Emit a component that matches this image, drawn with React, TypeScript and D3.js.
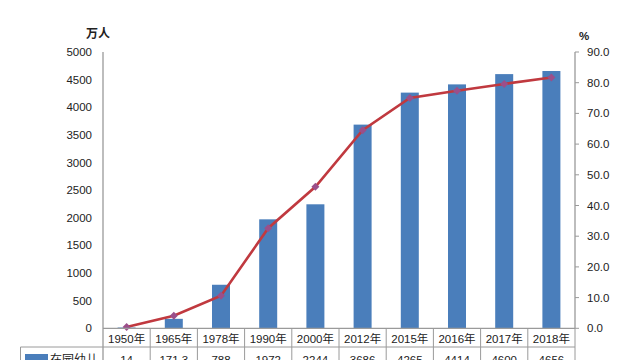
import React from "react";
import * as d3 from "d3";

const categories = ["1950年", "1965年", "1978年", "1990年", "2000年", "2012年", "2015年", "2016年", "2017年", "2018年"];
const enrolled = [14, 171.3, 788, 1972, 2244, 3686, 4265, 4414, 4600, 4656];
const enrolledLabels = ["14", "171.3", "788", "1972", "2244", "3686", "4265", "4414", "4600", "4656"];
const grossRate = [0.4, 4.1, 10.6, 32.6, 46.1, 64.5, 75.0, 77.4, 79.6, 81.7];
const leftTicks = [0, 500, 1000, 1500, 2000, 2500, 3000, 3500, 4000, 4500, 5000];
const rightTicks = [0, 10, 20, 30, 40, 50, 60, 70, 80, 90];
const seriesName = "在园幼儿";

const W = 640, H = 360;
const FONT = "'Liberation Sans', 'Noto Sans CJK SC', sans-serif";

export default function App() {
  const x0 = 103, x1 = 575, yTop = 52, yBot = 328.3;
  const x = d3.scaleBand<string>().domain(categories).range([x0, x1]).paddingInner(0).paddingOuter(0);
  const yL = d3.scaleLinear().domain([0, 5000]).range([yBot, yTop]);
  const yR = d3.scaleLinear().domain([0, 90]).range([yBot, yTop]);
  const bw = 18;
  const cx = (c: string) => (x(c) as number) + x.bandwidth() / 2;
  const line = d3.line<number>().x((_, i) => cx(categories[i])).y((d) => yR(d));
  const rowMid = 347;
  const gridColor = "#9a9a9a";
  const textColor = "#222";

  return (
    <svg width={W} height={H} style={{ position: "absolute", left: 0, top: 0, background: "#fff" }} fontFamily={FONT}>
      <rect x={0} y={0} width={W} height={H} fill="#fff" />
      {/* bars */}
      {enrolled.map((v, i) => (
        <rect key={i} x={cx(categories[i]) - bw / 2} y={yL(v)} width={bw} height={yBot - yL(v)} fill="#4a7ebb" />
      ))}
      {/* left axis */}
      <line x1={x0} x2={x0} y1={yTop} y2={H} stroke={gridColor} strokeWidth={1.3} />
      {leftTicks.map((t) => (
        <text key={t} x={92} y={yL(t) + 4} textAnchor="end" fontSize={11.5} fill={textColor}>{t}</text>
      ))}
      <text x={98} y={38} textAnchor="middle" fontSize={12} fontWeight="bold" fill={textColor}>万人</text>
      {/* right axis */}
      <line x1={x1} x2={x1} y1={yTop} y2={yBot} stroke={gridColor} strokeWidth={1.3} />
      {rightTicks.map((t) => (
        <g key={t}>
          <line x1={x1} x2={x1 + 4} y1={yR(t)} y2={yR(t)} stroke={gridColor} strokeWidth={1} />
          <text x={587} y={yR(t) + 4} fontSize={11.5} fill={textColor}>{t.toFixed(1)}</text>
        </g>
      ))}
      <text x={584} y={40} textAnchor="middle" fontSize={11.5} fontWeight="bold" fill={textColor}>%</text>
      {/* line */}
      <path d={line(grossRate) || ""} fill="none" stroke="#c0393f" strokeWidth={2.6} />
      {grossRate.map((v, i) => {
        const px = cx(categories[i]), py = yR(v);
        return <path key={i} d={`M${px},${py - 4}L${px + 4},${py}L${px},${py + 4}L${px - 4},${py}Z`} fill="#9b4f8a" />;
      })}
      {/* table */}
      <line x1={x0} x2={x1} y1={yBot} y2={yBot} stroke={gridColor} strokeWidth={1.3} />
      <line x1={20.5} x2={x1} y1={rowMid} y2={rowMid} stroke={gridColor} strokeWidth={1} />
      <line x1={20.5} x2={20.5} y1={rowMid} y2={H} stroke={gridColor} strokeWidth={1} />
      {categories.map((c, i) => (
        <line key={"g" + i} x1={(x(c) as number) + x.bandwidth()} x2={(x(c) as number) + x.bandwidth()} y1={yBot} y2={H} stroke={gridColor} strokeWidth={1} />
      ))}
      {categories.map((c) => (
        <text key={c} x={cx(c)} y={343} textAnchor="middle" fontSize={11.5} fill={textColor}>{c}</text>
      ))}
      {enrolledLabels.map((l, i) => (
        <text key={i} x={cx(categories[i])} y={364} textAnchor="middle" fontSize={11.5} fill={textColor}>{l}</text>
      ))}
      <rect x={25} y={354} width={23} height={8} fill="#4a7ebb" />
      <text x={50} y={364} fontSize={12} fill={textColor}>{seriesName}</text>
    </svg>
  );
}
